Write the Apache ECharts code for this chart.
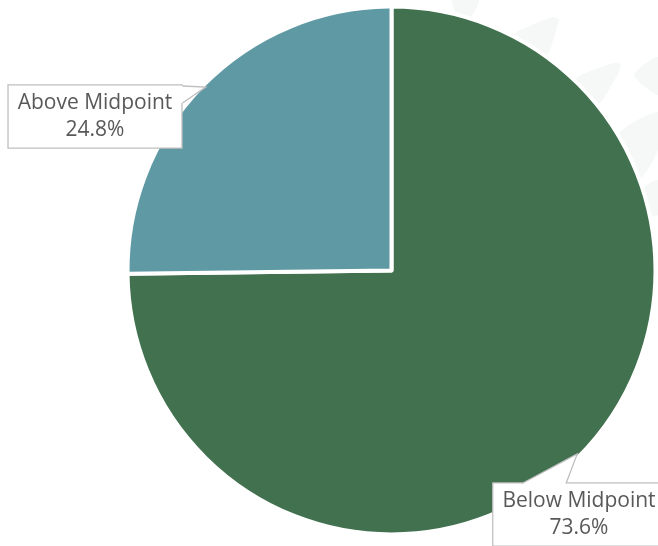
<!DOCTYPE html>
<html>
<head>
<meta charset="utf-8">
<script src="https://cdn.jsdelivr.net/npm/echarts@6/dist/echarts.min.js"></script>
<style>
  html, body { margin: 0; padding: 0; background: #ffffff; }
  #chart { width: 658px; height: 546px; }
</style>
</head>
<body>
<div id="chart"></div>
<script>
// Share of employees paid below / above the range midpoint (percent)
const categories = ['Below Midpoint', 'Above Midpoint'];
const shares = [73.6, 24.8];
const sliceColors = ['#41714f', '#5f9aa4'];

// Pie geometry
const CX = 391.5, CY = 270.5, R = 264, GAP = 4;

// Callout boxes: label anchor (box centre) and tail base on the box
const callouts = {
  'Below Midpoint': { x: 579, y: 514.5, base: [[522, 483.5], [566, 483.5]] },
  'Above Midpoint': { x: 95, y: 116.5, base: [[182.5, 86], [182.5, 103]] }
};

// Faint sunburst blades in the page background
const blades = [
  [[452, 0], [479, 0], [470, 18], [459, 18]],
  [[512, 36], [552, 17], [559, 19], [558, 24], [546, 56]],
  [[574, 80], [613, 63], [620, 64], [620, 70], [598, 104]],
  [[634, 75], [658, 57], [658, 95]],
  [[619, 134], [658, 112], [658, 150], [640, 178]],
  [[644, 188], [658, 180], [658, 215], [650, 215]]
];

const total = shares.reduce((a, b) => a + b, 0);

// Tail tip at each slice's mid-angle on the visible rim
function tailTip(index) {
  let before = 0;
  for (let i = 0; i < index; i++) before += shares[i];
  const mid = (before + shares[index] / 2) / total * 360; // clockwise from 12 o'clock
  const a = (90 - mid) * Math.PI / 180;
  const r = R - GAP / 2 - 1;
  return [CX + r * Math.cos(a), CY - r * Math.sin(a)];
}

const graphics = [];
blades.forEach(points => {
  graphics.push({
    type: 'polygon', z: -10, silent: true,
    shape: { points: points, smooth: 0.2 },
    style: { fill: '#f5f8f7' }
  });
});
categories.forEach((name, i) => {
  const c = callouts[name];
  const tip = tailTip(i);
  const inward = i === 0 ? [[c.base[1][0], c.base[1][1] + 1.5], [c.base[0][0], c.base[0][1] + 1.5]]
                         : [[c.base[1][0] - 1.5, c.base[1][1]], [c.base[0][0] - 1.5, c.base[0][1]]];
  graphics.push({
    type: 'polygon', z: 200, silent: true,
    shape: { points: [c.base[0], tip, c.base[1]].concat(inward) },
    style: { fill: '#ffffff', stroke: null }
  });
  graphics.push({
    type: 'polyline', z: 201, silent: true,
    shape: { points: [c.base[0], tip, c.base[1]] },
    style: { stroke: '#bfbfbf', lineWidth: 1.3, fill: null }
  });
});

const chart = echarts.init(document.getElementById('chart'), null, { renderer: 'canvas' });
chart.setOption({
  animation: false,
  backgroundColor: '#ffffff',
  graphic: graphics,
  series: [{
    type: 'pie',
    center: [CX, CY],
    radius: [0, R],
    startAngle: 90,
    clockwise: true,
    silent: true,
    data: categories.map((name, i) => ({
      name: name,
      value: shares[i],
      itemStyle: { color: sliceColors[i] }
    })),
    itemStyle: { borderColor: '#ffffff', borderWidth: GAP },
    label: {
      show: true,
      position: 'inside',
      overflow: 'none',
      formatter: p => p.name + '\n' + p.value.toFixed(1) + '%',
      fontFamily: '"Open Sans", sans-serif',
      fontSize: 21,
      lineHeight: 26.5,
      color: '#595959',
      align: 'center',
      backgroundColor: '#ffffff',
      borderColor: '#bfbfbf',
      borderWidth: 1.3,
      padding: [5, 9, 4, 9]
    },
    labelLine: { show: false },
    labelLayout: function (params) {
      const c = callouts[categories[params.dataIndex]];
      return { x: c.x, y: c.y, align: 'center', verticalAlign: 'middle' };
    }
  }]
});
</script>
</body>
</html>
